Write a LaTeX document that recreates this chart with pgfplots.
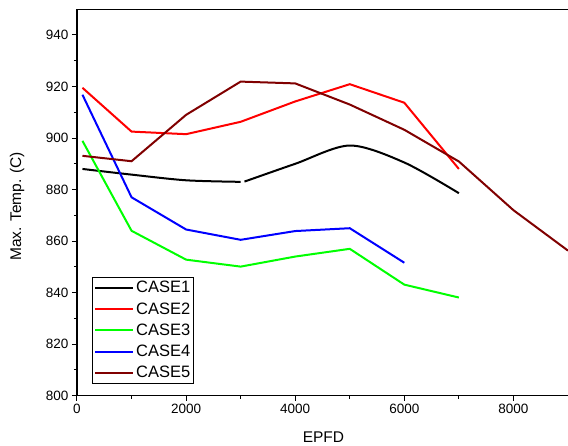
\documentclass[border=0pt]{standalone}
\usepackage{fontspec}
\setmainfont{Liberation Sans}
\usepackage{pgfplots}
\pgfplotsset{compat=1.18}
\definecolor{caseone}{RGB}{0,0,0}
\definecolor{casetwo}{RGB}{255,0,0}
\definecolor{casethree}{RGB}{0,255,0}
\definecolor{casefour}{RGB}{0,0,255}
\definecolor{casefive}{RGB}{128,0,0}

\begin{document}
\begin{tikzpicture}
\useasboundingbox (-77pt,-49.3pt) rectangle (491pt,395.7pt);
\begin{axis}[
    at={(0,0)}, anchor=south west,
    scale only axis,
    width=491pt, height=386.5pt,
    xmin=0, xmax=9000, ymin=800, ymax=950,
    axis x line=box, axis y line=left,
    every outer x axis line/.append style={-},
    every outer y axis line/.append style={-},
    axis line style={line width=1.3pt, black},
    xtick={0,2000,4000,6000,8000},
    minor x tick num=1,
    ytick={800,820,840,860,880,900,920,940},
    minor y tick num=1,
    xtick pos=left, ytick pos=left,
    tick align=outside,
    major tick length=5pt, minor tick length=3pt,
    tick style={line width=1pt, black},
    tick label style={font=\fontsize{13.5}{16}\selectfont},
    /pgf/number format/assume math mode=true,
    /pgf/number format/1000 sep={},
    xlabel={EPFD}, ylabel={Max. Temp. (C)},
    every axis x label/.style={at={(axis description cs:0.502,-0.106)}, anchor=center,
        font=\fontsize{15.5}{18}\selectfont},
    every axis y label/.style={at={(axis description cs:-0.122,0.49)}, rotate=90, anchor=center,
        font=\fontsize{15.5}{18}\selectfont},
    legend style={at={(0.0305,0.0303)}, anchor=south west, draw=black, line width=1pt,
        fill=white, font=\fontsize{16.5}{20}\selectfont, inner xsep=1.5pt, inner ysep=2pt,
        row sep=4.3pt, cells={anchor=west}},
    legend image code/.code={\draw[#1, line width=2.2pt] (0pt,0pt) -- (38pt,0pt);},
    every axis plot/.append style={line width=2pt},
]
\addplot[caseone, smooth] coordinates {
    (100,888) (1000,885.8) (2000,883.6) (3000,883)
};
\addlegendentry{CASE1}
\addplot[casetwo] coordinates {
    (100,919.5) (1000,902.5) (2000,901.5) (3000,906.3) (4000,914.2)
    (5000,920.9) (6000,913.7) (7000,888)
};
\addlegendentry{CASE2}
\addplot[casethree] coordinates {
    (100,898.9) (1000,864) (2000,852.8) (3000,850.1) (4000,854)
    (5000,857) (6000,843.1) (7000,838.1)
};
\addlegendentry{CASE3}
\addplot[casefour] coordinates {
    (100,916.8) (1000,877) (2000,864.5) (3000,860.5) (4000,863.9)
    (5000,865) (6000,851.6)
};
\addlegendentry{CASE4}
\addplot[casefive] coordinates {
    (100,893.1) (1000,891) (2000,909) (3000,921.9) (4000,921.2)
    (5000,913) (6000,903.2) (7000,890.9) (8000,872) (9000,856.3)
};
\addlegendentry{CASE5}
\addplot[caseone, smooth, forget plot] coordinates {
    (3070,883.1) (4000,890) (5000,897.1) (6000,890.5) (7000,878.6)
};
\end{axis}
\end{tikzpicture}
\end{document}
